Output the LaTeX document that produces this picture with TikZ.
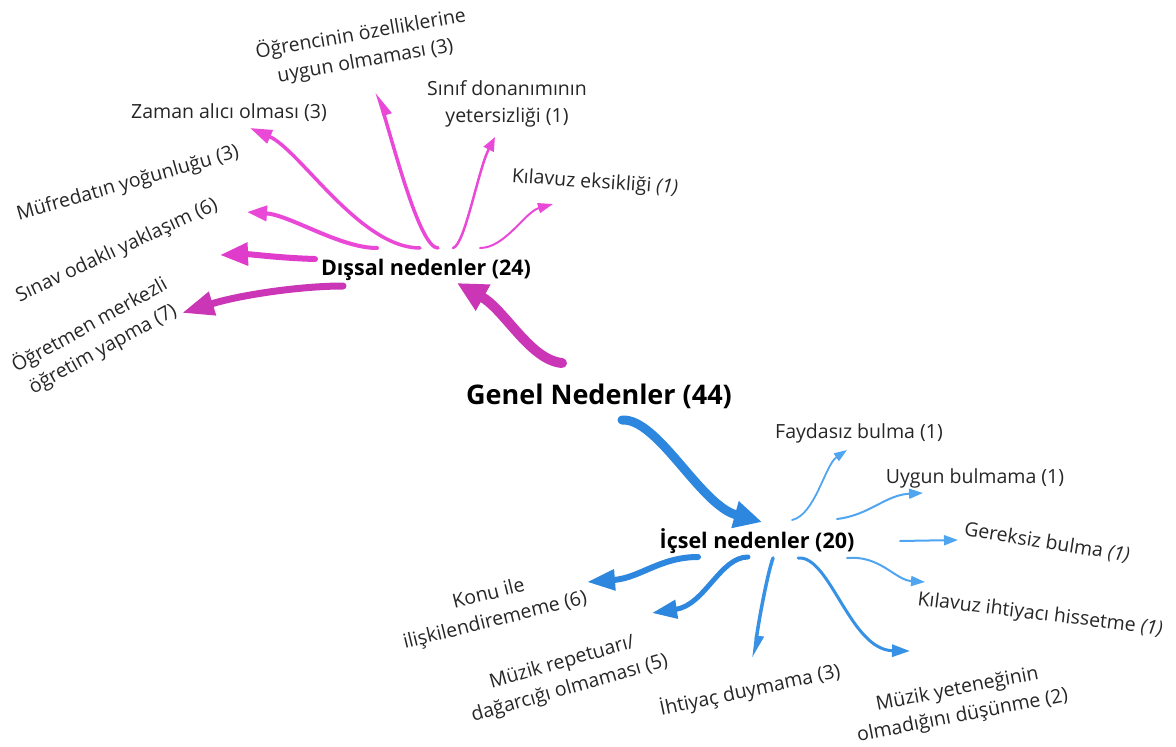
\documentclass[tikz,border=0pt]{standalone}
\usepackage{fontspec}
\setmainfont{Open Sans}
\usetikzlibrary{calc}
\usetikzlibrary{arrows.meta}

\definecolor{pinkdark}{RGB}{202,54,182}
\definecolor{pinkmid}{RGB}{224,60,204}
\definecolor{pinklight}{RGB}{234,72,214}
\definecolor{bluedark}{RGB}{45,135,222}
\definecolor{bluemid}{RGB}{55,145,228}
\definecolor{bluelight}{RGB}{80,165,240}

\begin{document}
\begin{tikzpicture}[x=1pt, y=-1pt,
    lbl/.style={font=\fontsize{19.5}{27}\selectfont, align=center, inner sep=0pt, text=black!85},
    hub/.style={font=\fontsize{21.5}{26}\selectfont\bfseries, inner sep=0pt, text=black},
    pnk/.style={line cap=round},
    blu/.style={line cap=round}]

\useasboundingbox (0,0) rectangle (1176,747);

% Centre and the two hubs
\node[font=\fontsize{27}{30}\selectfont\bfseries, inner sep=0pt] (gen) at (599,396) {Genel Nedenler (44)};
\node[hub] (dis) at (426,270) {Dışsal nedenler (24)};
\node[hub] (ic) at (757,541) {İçsel nedenler (20)};

% External causes
\node[lbl, rotate=10] (ogr) at (363,47) {Öğrencinin özelliklerine\\uygun olmaması (3)};
\node[lbl] (zam) at (229,113) {Zaman alıcı olması (3)};
\node[lbl] (sinif) at (507,104) {Sınıf donanımının\\yetersizliği (1)};
\node[lbl, rotate=-4] (kil) at (595,183) {Kılavuz eksikliği \textit{(1)}};
\node[lbl, rotate=16] (muf) at (128,184) {Müfredatın yoğunluğu (3)};
\node[lbl, rotate=25] (sin) at (117,251) {Sınav odaklı yaklaşım (6)};
\node[lbl, rotate=29] (ogt) at (96,337) {Öğretmen merkezli\\öğretim yapma (7)};

% Internal causes
\node[lbl] (fay) at (859,433) {Faydasız bulma (1)};
\node[lbl] (uyg) at (975,478) {Uygun bulmama (1)};
\node[lbl, rotate=-9] (ger) at (1047,543) {Gereksiz bulma \textit{(1)}};
\node[lbl, rotate=-7] (kih) at (1040,615) {Kılavuz ihtiyacı hissetme \textit{(1)}};
\node[lbl, rotate=11] (myt) at (960,703) {Müzik yeteneğinin\\olmadığını düşünme (2)};
\node[lbl, rotate=12] (iht) at (750,690) {İhtiyaç duymama (3)};
\node[lbl, rotate=16] (mrep) at (566,676) {Müzik repetuarı/\\dağarcığı olmaması (5)};
\node[lbl, rotate=14] (konu) at (492,608) {Konu ile\\ilişkilendirememe (6)};

% Main branches
\draw[pnk, draw=pinkdark, line width=10, -{Triangle[length=30pt, width=28pt]}]
    ($(gen)+(-37,-33)$) .. controls +(-32,-3) and +(48,27) .. ($(dis)+(31,13)$);
\draw[blu, draw=bluedark, line width=9, -{Triangle[length=28pt, width=26pt]}]
    ($(gen)+(23,24)$) .. controls +(36,-2) and +(-62,-17) .. ($(ic)+(5,-19)$);

% Pink arrows
\draw[pnk, draw=pinkdark, line width=7, -{Triangle[length=32pt, width=23pt]}]
    ($(dis)+(-83,16)$) .. controls +(-43,0) and +(58,-18) .. ($(ogt)+(86,-24)$);
\draw[pnk, draw=pinkmid, line width=6, -{Triangle[length=28pt, width=22pt]}]
    ($(dis)+(-111,-11)$) .. controls +(-35,-1) and +(30,-1) .. ($(sin)+(103,4)$);
\draw[pnk, draw=pinklight, line width=4, -{Triangle[length=20pt, width=15pt]}]
    ($(dis)+(-49,-22)$) .. controls +(-37,0) and +(43,3) .. ($(muf)+(119,28)$);
\draw[pnk, draw=pinklight, line width=3.5, -{Triangle[length=22pt, width=14pt]}]
    ($(dis)+(-6,-22)$) .. controls +(-60,0) and +(50,22) .. ($(zam)+(21,15)$);
\draw[pnk, draw=pinklight, line width=3.5, -{Triangle[length=20pt, width=15pt, right]}]
    ($(dis)+(12,-22)$) .. controls +(-18,0) and +(18,58) .. ($(ogr)+(14,45)$);
\draw[pnk, draw=pinklight, line width=2.5, -{Triangle[length=14pt, width=11pt]}]
    ($(dis)+(27,-22)$) .. controls +(12,-3) and +(-17,33) .. ($(sinif)+(-12,33)$);
\draw[pnk, draw=pinklight, line width=2, -{Triangle[length=15pt, width=10pt]}]
    ($(dis)+(54,-22)$) .. controls +(25,0) and +(-28,8) .. ($(kil)+(-42,21)$);

% Blue arrows
\draw[blu, draw=bluelight, line width=1.8, -{Triangle[length=13pt, width=9pt]}]
    ($(ic)+(35,-21)$) .. controls +(23,-5) and +(-22,15) .. ($(fay)+(-12,17)$);
\draw[blu, draw=bluelight, line width=2, -{Triangle[length=14pt, width=10pt]}]
    ($(ic)+(80,-22)$) .. controls +(33,-4) and +(-38,2) .. ($(uyg)+(-52,15)$);
\draw[blu, draw=bluelight, line width=2, -{Triangle[length=14pt, width=10pt]}]
    ($(ic)+(143,0)$) -- ($(ger)+(-89,-3)$);
\draw[blu, draw=bluelight, line width=2, -{Triangle[length=14pt, width=10pt]}]
    ($(ic)+(90,17)$) .. controls +(33,-3) and +(-30,-2) .. ($(kih)+(-115,-33)$);
\draw[blu, draw=bluemid, line width=3, -{Triangle[length=18pt, width=12pt]}]
    ($(ic)+(41,17)$) .. controls +(32,-3) and +(-60,-1) .. ($(myt)+(-50,-52)$);
\draw[blu, draw=bluemid, line width=3.5, -{Triangle[length=18pt, width=14pt, left]}]
    ($(ic)+(16,17)$) .. controls +(-6,17) and +(4,-33) .. ($(iht)+(4,-32)$);
\draw[blu, draw=bluedark, line width=5, -{Triangle[length=25pt, width=18pt]}]
    ($(ic)+(-9,16)$) .. controls +(-28,0) and +(53,-8) .. ($(mrep)+(86,-63)$);
\draw[blu, draw=bluedark, line width=6, -{Triangle[length=28pt, width=20pt]}]
    ($(ic)+(-59,16)$) .. controls +(-38,0) and +(53,-4) .. ($(konu)+(95,-26)$);

\end{tikzpicture}
\end{document}
